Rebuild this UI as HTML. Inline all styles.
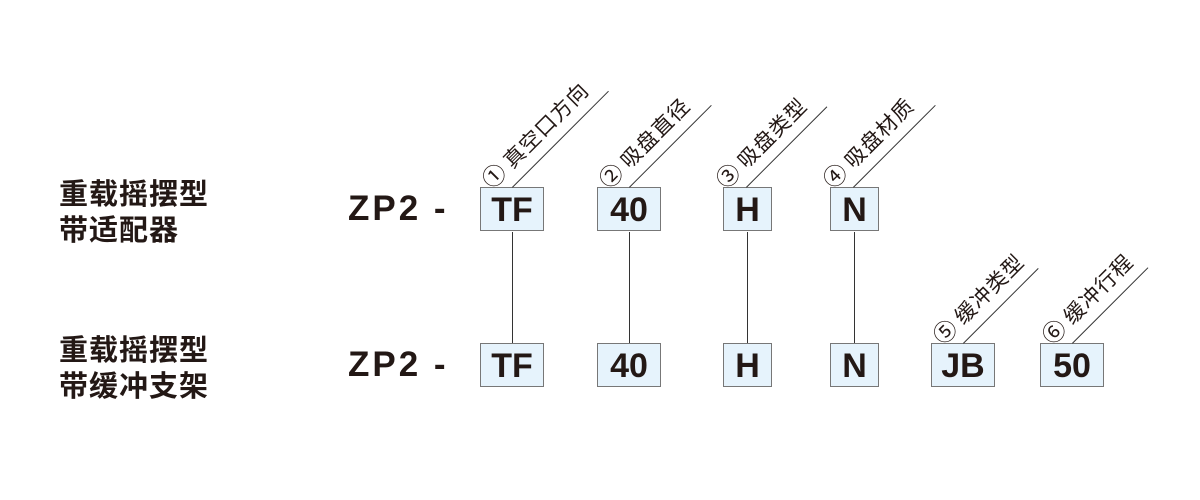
<!DOCTYPE html>
<html><head><meta charset="utf-8"><style>
body{margin:0;width:1200px;height:500px;background:#fff;position:relative;overflow:hidden;font-family:"Liberation Sans","Noto Sans CJK SC",sans-serif;color:#231815}
.cn{position:absolute;left:59px;font-size:29px;font-weight:bold;line-height:36px;font-family:"Noto Sans CJK SC",sans-serif;letter-spacing:1px}
.zp{position:absolute;left:348px;font-size:35px;font-weight:bold;letter-spacing:3px}
.box{position:absolute;height:44px;background:#e6f3fc;border:1px solid #777;box-sizing:border-box;font-weight:bold;font-size:34px;text-align:center;line-height:44px}
.v{position:absolute;width:1px;background:#333;top:232px;height:111px}
.ln{position:absolute;height:1px;background:#333;transform-origin:left top;transform:rotate(-45deg)}
.lb{position:absolute;font-size:21px;line-height:22px;transform-origin:left bottom;transform:rotate(-45deg);white-space:nowrap;font-family:"Noto Sans CJK SC",sans-serif;letter-spacing:1px}
.lb span{font-size:23px;margin-right:5px}
</style></head><body>
<div class="cn" style="top:174px">重载摇摆型<br>带适配器</div>
<div class="cn" style="top:330px">重载摇摆型<br>带缓冲支架</div>
<div class="zp" style="top:189px">ZP2 -</div>
<div class="zp" style="top:345px">ZP2 -</div>

<div class="box" style="left:480px;top:187px;width:64px">TF</div>
<div class="box" style="left:597px;top:187px;width:64px">40</div>
<div class="box" style="left:723px;top:187px;width:49px">H</div>
<div class="box" style="left:830px;top:187px;width:49px">N</div>

<div class="box" style="left:480px;top:343px;width:64px">TF</div>
<div class="box" style="left:597px;top:343px;width:64px">40</div>
<div class="box" style="left:723px;top:343px;width:49px">H</div>
<div class="box" style="left:830px;top:343px;width:49px">N</div>
<div class="box" style="left:931px;top:343px;width:64px">JB</div>
<div class="box" style="left:1040px;top:343px;width:64px">50</div>

<div class="v" style="left:512px"></div>
<div class="v" style="left:629px"></div>
<div class="v" style="left:747px"></div>
<div class="v" style="left:854px"></div>

<div class="ln" style="left:512px;top:187px;width:136px"></div>
<div class="ln" style="left:629px;top:187px;width:116px"></div>
<div class="ln" style="left:746px;top:187px;width:114px"></div>
<div class="ln" style="left:853px;top:187px;width:116px"></div>
<div class="ln" style="left:963px;top:343px;width:106px"></div>
<div class="ln" style="left:1072px;top:343px;width:107px"></div>

<div class="lb" style="left:494px;top:168px"><span>①</span>真空口方向</div>
<div class="lb" style="left:611px;top:168px"><span>②</span>吸盘直径</div>
<div class="lb" style="left:728px;top:168px"><span>③</span>吸盘类型</div>
<div class="lb" style="left:835px;top:168px"><span>④</span>吸盘材质</div>
<div class="lb" style="left:945px;top:324px"><span>⑤</span>缓冲类型</div>
<div class="lb" style="left:1054px;top:324px"><span>⑥</span>缓冲行程</div>
</body></html>
